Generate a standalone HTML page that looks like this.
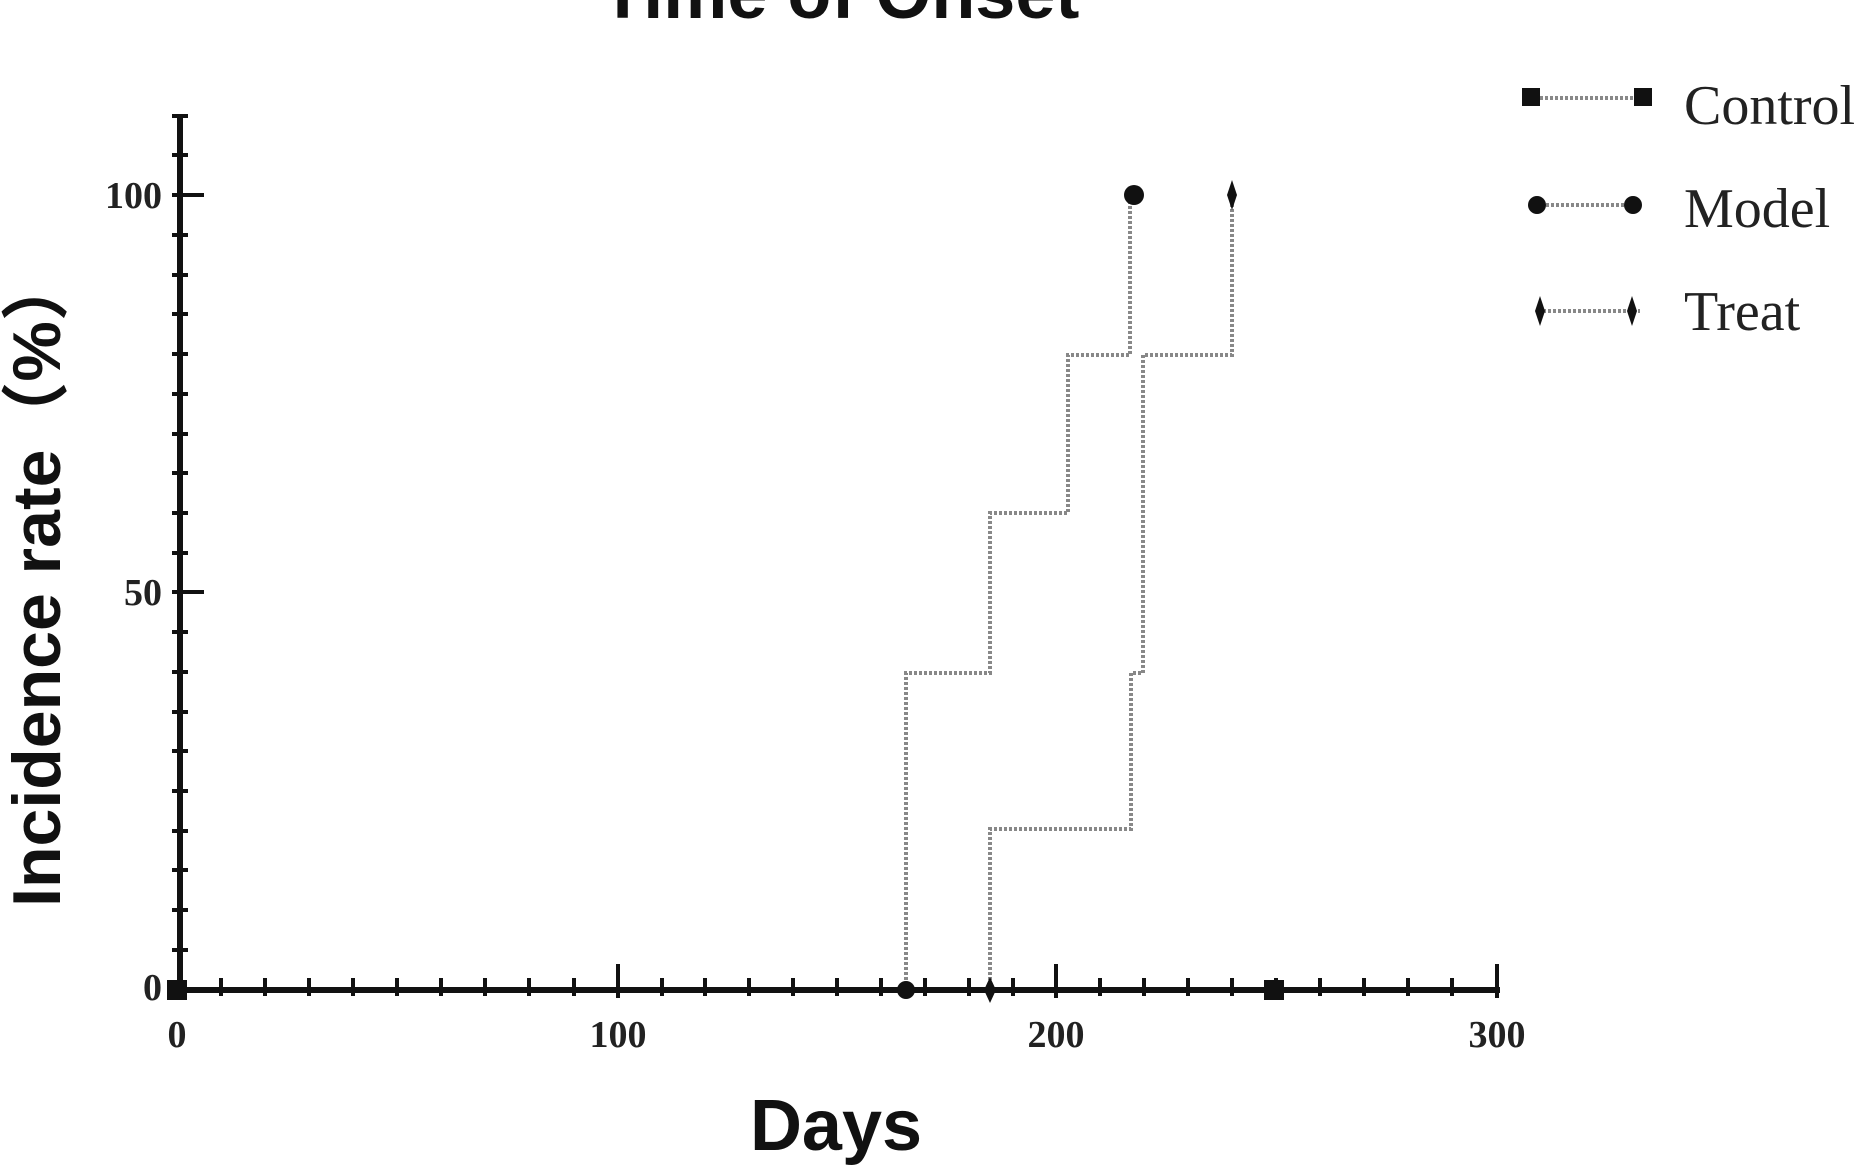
<!DOCTYPE html><html><head><style>body{margin:0;background:#fff}svg{display:block}</style></head><body>
<svg width="1871" height="1166" xmlns="http://www.w3.org/2000/svg">
<g font-family="Liberation Sans, sans-serif" font-weight="bold" fill="#111">
<text x="840" y="18" font-size="72" text-anchor="middle">Time of Onset</text>
<text x="836" y="1150" font-size="72" text-anchor="middle">Days</text>
<text transform="translate(60,580) rotate(-90)" font-size="68" text-anchor="middle" font-family="Liberation Sans, Noto Sans CJK SC, sans-serif">Incidence rate（%）</text>
</g>
<g font-family="Liberation Serif, serif" font-size="38" fill="#222" font-weight="bold">
<text x="162" y="208" text-anchor="end">100</text>
<text x="162" y="605" text-anchor="end">50</text>
<text x="162" y="1000" text-anchor="end">0</text>
<text x="177" y="1047" text-anchor="middle">0</text>
<text x="618" y="1047" text-anchor="middle">100</text>
<text x="1056" y="1047" text-anchor="middle">200</text>
<text x="1497" y="1047" text-anchor="middle">300</text>
</g>
<g stroke="#111" stroke-width="6">
<line x1="180" y1="114" x2="180" y2="993"/>
<line x1="177" y1="990" x2="1500" y2="990"/>
</g>
<g stroke="#111" stroke-width="4">
<path d="M172 195h32M172 592h32M170 990h10"/>
<path d="M172 235h16M172 275h16M172 314h16M172 354h16M172 394h16M172 434h16M172 473h16M172 513h16M172 553h16M172 632h16M172 672h16M172 712h16M172 751h16M172 791h16M172 831h16M172 870h16M172 910h16M172 950h16M172 155h16M172 116h16"/>
<path d="M618 998v-34M1056 998v-34M1497 998v-34"/>
<path d="M221 996v-18M265 996v-18M309 996v-18M353 996v-18M397 996v-18M441 996v-18M485 996v-18M529 996v-18M574 996v-18M662 996v-18M705 996v-18M749 996v-18M793 996v-18M837 996v-18M881 996v-18M925 996v-18M969 996v-18M1013 996v-18M1100 996v-18M1144 996v-18M1188 996v-18M1232 996v-18M1276 996v-18M1320 996v-18M1364 996v-18M1408 996v-18M1452 996v-18"/>
</g>
<g fill="none" stroke="#888" stroke-width="4" stroke-dasharray="3,2">
<path d="M906 990V673H990V513H1068V355H1130V195"/>
<path d="M990 990V829H1131V673H1143V355H1232V195"/>
</g>
<g fill="#111">
<rect x="167" y="980" width="20" height="20"/>
<rect x="1264" y="980" width="20" height="20"/>
<circle cx="906" cy="990" r="9"/>
<circle cx="1134" cy="195" r="10"/>
<path d="M990 977l6 13-6 13-6-13z"/>
<path d="M1232 180l5 15-5 15-5-15z"/>
</g>
<g stroke="#888" stroke-width="4" stroke-dasharray="3,2"><path d="M1530 98h110M1536 205h104M1538 311h102"/></g>
<g fill="#111">
<rect x="1522" y="88" width="18" height="18"/><rect x="1634" y="88" width="18" height="18"/>
<circle cx="1537" cy="205" r="9"/><circle cx="1633" cy="205" r="9"/>
<path d="M1540 296l5 15-5 15-5-15zM1632 296l5 15-5 15-5-15z"/>
</g>
<g font-family="Liberation Serif, serif" font-size="56" fill="#222">
<text x="1684" y="124">Control</text>
<text x="1684" y="227">Model</text>
<text x="1684" y="330">Treat</text>
</g>
</svg></body></html>
